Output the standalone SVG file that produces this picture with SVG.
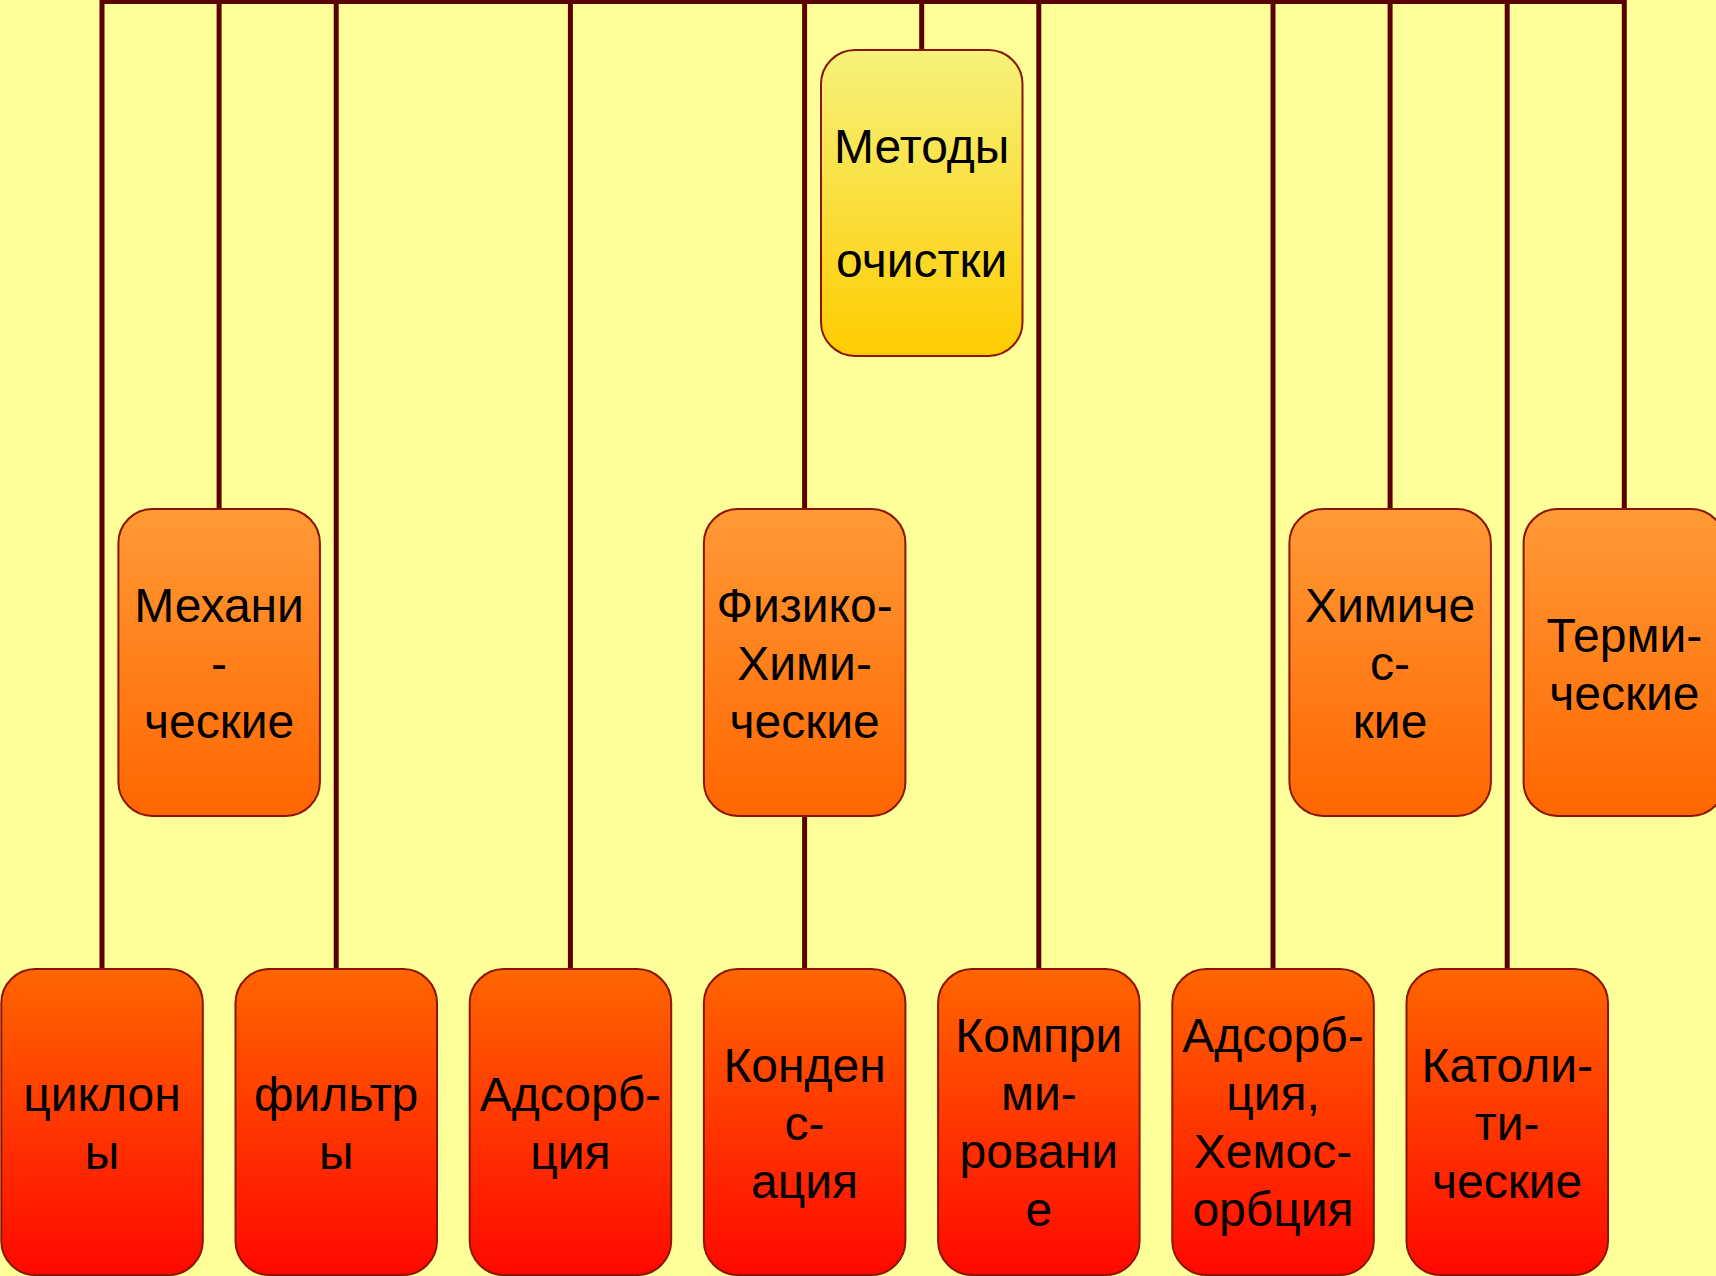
<svg xmlns="http://www.w3.org/2000/svg" width="1716" height="1276" viewBox="0 0 1716 1276">
  <defs>
    <linearGradient id="gTop" x1="0" y1="0" x2="0" y2="1">
      <stop offset="0" stop-color="#F6F27C"/>
      <stop offset="1" stop-color="#FFCC00"/>
    </linearGradient>
    <linearGradient id="gMid" x1="0" y1="0" x2="0" y2="1">
      <stop offset="0" stop-color="#FF9A36"/>
      <stop offset="1" stop-color="#FF6600"/>
    </linearGradient>
    <linearGradient id="gLow" x1="0" y1="0" x2="0" y2="1">
      <stop offset="0" stop-color="#FF6600"/>
      <stop offset="1" stop-color="#FF0800"/>
    </linearGradient>
    <style>
      .box { stroke: #8A1500; stroke-width: 2; }
      .top { fill: url(#gTop); }
      .mid { fill: url(#gMid); }
      .low { fill: url(#gLow); }
      .lbl { font-family: "Liberation Sans", Arial, sans-serif; font-size: 48px; fill: #000; text-anchor: middle; }
      .wire { stroke: #5A0000; stroke-width: 5; fill: none; }
    </style>
  </defs>

  <rect width="1716" height="1276" fill="#FFFF99"/>

  <!-- connectors: one bus along the top edge, drops to each node -->
  <g id="connectors" class="wire">
    <line x1="102" y1="1.5" x2="1624.3" y2="1.5"/>
    <line x1="102" y1="0" x2="102" y2="969"/>
    <line x1="219.1" y1="0" x2="219.1" y2="509"/>
    <line x1="336.2" y1="0" x2="336.2" y2="969"/>
    <line x1="570.4" y1="0" x2="570.4" y2="969"/>
    <line x1="804.6" y1="0" x2="804.6" y2="969"/>
    <line x1="921.7" y1="0" x2="921.7" y2="50"/>
    <line x1="1038.8" y1="0" x2="1038.8" y2="969"/>
    <line x1="1273" y1="0" x2="1273" y2="969"/>
    <line x1="1390.1" y1="0" x2="1390.1" y2="509"/>
    <line x1="1507.2" y1="0" x2="1507.2" y2="969"/>
    <line x1="1624.3" y1="0" x2="1624.3" y2="509"/>
  </g>

  <!-- root -->
  <g id="metody">
    <rect class="box top" x="821" y="50" width="201.5" height="306" rx="34"/>
    <text class="lbl" x="921.7"><tspan x="921.7" y="163">Методы</tspan><tspan x="921.7" y="277">очистки</tspan></text>
  </g>

  <!-- second level -->
  <g id="mekhanicheskie">
    <rect class="box mid" x="118.4" y="509" width="201.5" height="307" rx="34"/>
    <text class="lbl"><tspan x="219.1" y="622">Механи</tspan><tspan x="219.1" y="680">-</tspan><tspan x="219.1" y="738">ческие</tspan></text>
  </g>
  <g id="fiziko-khimicheskie">
    <rect class="box mid" x="703.9" y="509" width="201.5" height="307" rx="34"/>
    <text class="lbl"><tspan x="804.6" y="622">Физико-</tspan><tspan x="804.6" y="680">Хими-</tspan><tspan x="804.6" y="738">ческие</tspan></text>
  </g>
  <g id="khimicheskie">
    <rect class="box mid" x="1289.4" y="509" width="201.5" height="307" rx="34"/>
    <text class="lbl"><tspan x="1390.1" y="622">Химиче</tspan><tspan x="1390.1" y="680">с-</tspan><tspan x="1390.1" y="738">кие</tspan></text>
  </g>
  <g id="termicheskie">
    <rect class="box mid" x="1523.6" y="509" width="201.5" height="307" rx="34"/>
    <text class="lbl"><tspan x="1624.3" y="652">Терми-</tspan><tspan x="1624.3" y="710">ческие</tspan></text>
  </g>

  <!-- third level -->
  <g id="tsiklony">
    <rect class="box low" x="1.3" y="969" width="201.5" height="306" rx="34"/>
    <text class="lbl"><tspan x="102" y="1111">циклон</tspan><tspan x="102" y="1169">ы</tspan></text>
  </g>
  <g id="filtry">
    <rect class="box low" x="235.5" y="969" width="201.5" height="306" rx="34"/>
    <text class="lbl"><tspan x="336.2" y="1111">фильтр</tspan><tspan x="336.2" y="1169">ы</tspan></text>
  </g>
  <g id="adsorbtsiya">
    <rect class="box low" x="469.7" y="969" width="201.5" height="306" rx="34"/>
    <text class="lbl"><tspan x="570.4" y="1111">Адсорб-</tspan><tspan x="570.4" y="1169">ция</tspan></text>
  </g>
  <g id="kondensatsiya">
    <rect class="box low" x="703.9" y="969" width="201.5" height="306" rx="34"/>
    <text class="lbl"><tspan x="804.6" y="1082">Конден</tspan><tspan x="804.6" y="1140">с-</tspan><tspan x="804.6" y="1198">ация</tspan></text>
  </g>
  <g id="komprimirovanie">
    <rect class="box low" x="938.1" y="969" width="201.5" height="306" rx="34"/>
    <text class="lbl"><tspan x="1038.8" y="1052">Компри</tspan><tspan x="1038.8" y="1110">ми-</tspan><tspan x="1038.8" y="1168">ровани</tspan><tspan x="1038.8" y="1226">е</tspan></text>
  </g>
  <g id="khemosorbtsiya">
    <rect class="box low" x="1172.3" y="969" width="201.5" height="306" rx="34"/>
    <text class="lbl"><tspan x="1273" y="1052">Адсорб-</tspan><tspan x="1273" y="1110">ция,</tspan><tspan x="1273" y="1168">Хемос-</tspan><tspan x="1273" y="1226">орбция</tspan></text>
  </g>
  <g id="kataliticheskie">
    <rect class="box low" x="1406.5" y="969" width="201.5" height="306" rx="34"/>
    <text class="lbl"><tspan x="1507.2" y="1082">Католи-</tspan><tspan x="1507.2" y="1140">ти-</tspan><tspan x="1507.2" y="1198">ческие</tspan></text>
  </g>
</svg>
